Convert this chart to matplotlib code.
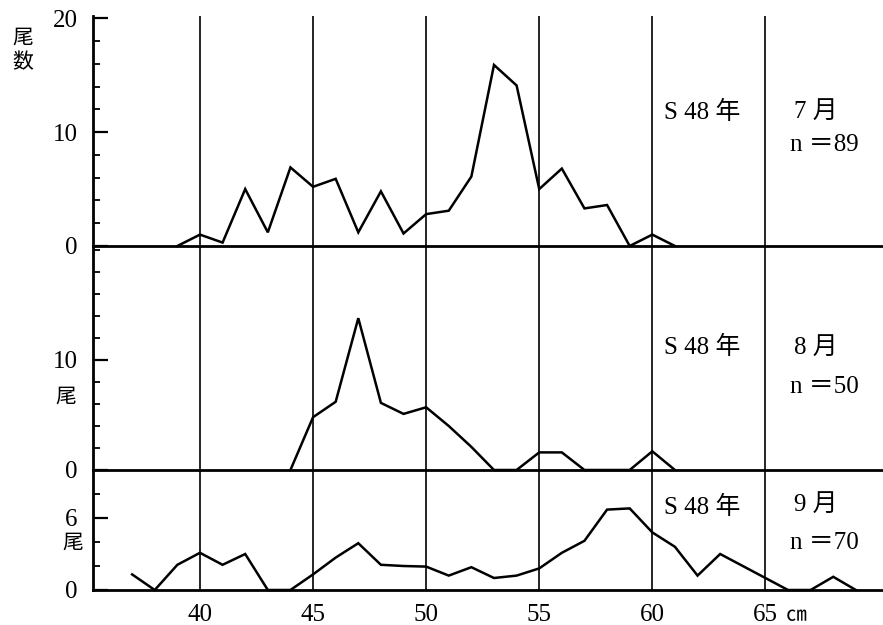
import matplotlib
matplotlib.use("Agg")
import matplotlib.pyplot as plt
from matplotlib.ticker import MultipleLocator
from matplotlib.transforms import blended_transform_factory

FAM = ['Liberation Serif', 'Noto Sans CJK JP', 'DejaVu Sans']
plt.rcParams['font.family'] = FAM

# ---- data (fish length in cm vs. count) ----
x_jul = [39, 40, 41, 42, 43, 44, 45, 46, 47, 48, 49, 50, 51, 52, 53, 54, 55, 56, 57, 58, 59, 60, 61]
y_jul = [0, 1.0, 0.3, 5.0, 1.2, 6.9, 5.2, 5.9, 1.2, 4.8, 1.1, 2.8, 3.1, 6.1, 15.9, 14.1, 5.0, 6.8, 3.3, 3.6, 0, 1.0, 0]

x_aug = [44, 45, 46, 47, 48, 49, 50, 51, 52, 53, 54, 55, 56, 57, 58, 59, 60, 61]
y_aug = [0, 4.8, 6.2, 13.8, 6.1, 5.1, 5.7, 4.0, 2.1, 0, 0, 1.6, 1.6, 0, 0, 0, 1.7, 0]

x_sep = [37, 38, 39, 40, 41, 42, 43, 44, 45, 46, 47, 48, 49, 50, 51, 52, 53, 54, 55,
         56, 57, 58, 59, 60, 61, 62, 63, 64, 65, 66, 67, 68, 69]
y_sep = [1.3, 0, 2.1, 3.1, 2.1, 3.0, 0, 0, 1.3, 2.7, 3.9, 2.1, 2.0, 1.95, 1.2, 1.9, 1.0, 1.2, 1.8,
         3.1, 4.1, 6.7, 6.8, 4.8, 3.6, 1.2, 3.0, 2.0, 1.0, 0, 0, 1.1, 0]

x_ticks = [40, 45, 50, 55, 60, 65]
x_labels = ['40', '45', '50', '55', '60', '65']

panels = [
    dict(x=x_jul, y=y_jul, ylim=20.2, major=[0, 10, 20], labels=['0', '10', '20'], unit_at=None,
         unit_off=None, year='S 48 年', month='7 月', n='n ＝89', pos=(0.6064, 0.368),
         ty=(11.75, 11.75, 8.86)),
    dict(x=x_aug, y=y_aug, ylim=20.36, major=[0, 10], labels=['0', '10'], unit_at=10,
         unit_off=(-19.5, -26.5), year='S 48 年', month='8 月', n='n ＝50', pos=(0.248, 0.3584),
         ty=(11.1, 11.1, 7.5)),
    dict(x=x_sep, y=y_sep, ylim=10.0, major=[0, 6], labels=['0', '6'], unit_at=6,
         unit_off=(-14.5, -17.5), year='S 48 年', month='9 月', n='n ＝70', pos=(0.056, 0.192),
         ty=(6.9, 7.1, 3.9)),
]

fig = plt.figure(figsize=(8.83, 6.25), dpi=100)
left = 93 / 883
FS = 18

axes = []
for i, p in enumerate(panels):
    ax = fig.add_axes([left, p['pos'][0], 1 - left, p['pos'][1]])
    ax.patch.set_alpha(0)
    ax.set_xlim(35.27, 70.2)
    ax.set_ylim(0, p['ylim'])
    for s in ('top', 'right'):
        ax.spines[s].set_visible(False)
    ax.spines['left'].set_linewidth(2.0)
    ax.spines['bottom'].set_linewidth(2.0)
    ax.set_xticks(x_ticks)
    ax.xaxis.grid(True, color='black', linewidth=1.2)
    ax.set_axisbelow(True)
    ax.tick_params(axis='x', length=0, pad=10, labelsize=FS)
    if i < 2:
        ax.set_xticklabels([])
    else:
        ax.set_xticklabels(x_labels)
    ax.set_yticks(p['major'])
    ax.set_yticklabels(p['labels'])
    ax.yaxis.set_minor_locator(MultipleLocator(2))
    ax.tick_params(axis='y', which='major', direction='in', length=11, width=1.6, pad=11, labelsize=FS)
    ax.tick_params(axis='y', which='minor', direction='in', length=5, width=1.3)
    ax.plot(p['x'], p['y'], color='black', linewidth=1.8, solid_joinstyle='miter', clip_on=False)

    ax.text(60.5, p['ty'][0], p['year'], fontsize=FS, va='center', ha='left', family=FAM)
    ax.text(66.25, p['ty'][1], p['month'], fontsize=FS, va='center', ha='left', family=FAM)
    ax.text(66.1, p['ty'][2], p['n'], fontsize=FS, va='center', ha='left', family=FAM)

    if p['unit_at'] is not None:
        tr = blended_transform_factory(ax.transAxes, ax.transData)
        ax.annotate('尾', xy=(0, p['unit_at']), xycoords=tr, xytext=p['unit_off'],
                    textcoords='offset points', fontsize=15, ha='center', va='center',
                    family=['Noto Sans CJK JP'])
    axes.append(ax)

# unit "cm" after the 65 label
axb = axes[2]
trb = blended_transform_factory(axb.transData, axb.transAxes)
axb.annotate('㎝', xy=(65, 0), xycoords=trb, xytext=(22, -18), textcoords='offset points',
             fontsize=15, ha='center', va='center', family=['Noto Sans CJK JP'])

# y axis title (vertical)
fig.text(23 / 883, 1 - 50 / 625, '尾\n数', fontsize=15, ha='center', va='center',
         linespacing=1.15, family=['Noto Sans CJK JP'])

fig.savefig('out.png', dpi=100)
